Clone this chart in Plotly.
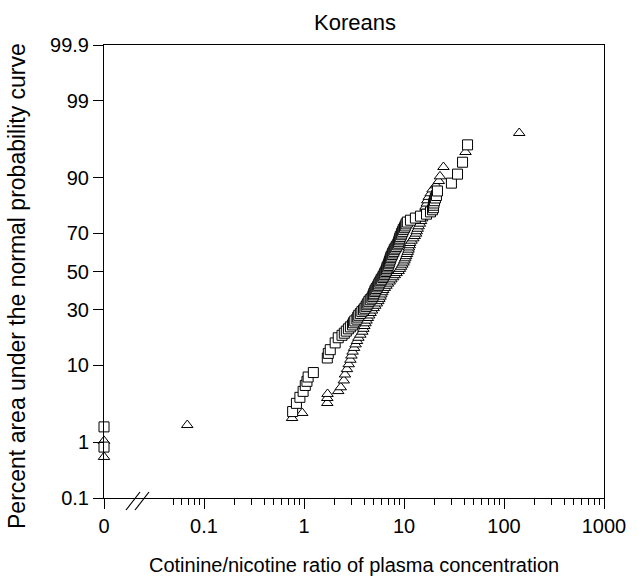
import plotly.graph_objects as go
from statistics import NormalDist

# ---------------- data ----------------
SQ_X = [0, 0, 0.77, 0.84, 0.91, 0.98, 1.03, 1.07, 1.10, 1.24, 1.71, 1.75, 1.83, 2.05,
        2.2, 2.4, 2.53, 2.65, 2.78, 2.91, 3.05, 3.12, 3.22, 3.38, 3.45, 3.53, 3.66, 3.79,
        3.94, 4.06, 4.18, 4.27, 4.36, 4.46, 4.6, 4.77, 4.88, 4.94, 5.0, 5.11, 5.16, 5.28,
        5.41, 5.53, 5.6, 5.73, 5.86, 5.93, 6.13, 6.2, 6.35, 6.43, 6.58, 6.66, 6.74, 6.8,
        6.96, 7.04, 7.12, 7.2, 7.29, 7.37, 7.46, 7.63, 7.72, 7.9, 8.0, 8.18, 8.37, 8.57,
        8.77, 8.87, 8.97, 9.07, 9.18, 9.4, 9.5, 9.7, 9.84, 10.1, 10.3, 10.5, 10.8,
        11.6, 13.0, 14.6, 16.8, 18.4, 19.3, 19.7, 19.7, 19.9, 20.2, 20.6, 21.1, 21.6,
        29.8, 34.3, 38.5, 43.2]
SQ_P = [0.83, 1.70, 2.8, 3.6, 4.3, 5.1, 6.0, 6.7, 7.5, 8.4, 11.9, 13.2, 14.3, 16.5,
        18.3, 19.2, 20.0, 20.8, 21.7, 22.5, 23.3, 24.2, 25.0, 25.8, 26.7, 27.5, 28.3, 29.2,
        30.0, 30.8, 31.7, 32.5, 33.3, 34.2, 35.0, 35.8, 36.7, 37.5, 38.3, 39.2, 40.0, 40.8,
        41.7, 42.5, 43.3, 44.2, 45.0, 45.8, 46.7, 47.5, 48.3, 49.2, 50.0, 50.8, 51.7, 52.5,
        53.3, 54.2, 55.0, 55.8, 56.7, 57.5, 58.3, 59.2, 60.0, 60.8, 61.7, 62.5, 63.3, 64.2,
        65.0, 65.8, 66.7, 67.5, 68.3, 69.2, 70.0, 70.8, 71.7, 72.5, 73.3, 74.2, 75.0,
        75.8, 76.7, 77.5, 78.3, 79.2, 80.0, 80.8, 81.7, 82.5, 83.3, 84.2, 85.0, 86.4,
        88.6, 90.8, 93.2, 95.8]

TR_X = [0, 0, 0.068, 0.76, 0.96, 1.71, 1.71, 1.72, 2.2,
        2.33, 2.50, 2.57, 2.69, 2.80, 2.91, 2.98, 3.06, 3.17, 3.28,
        3.39, 3.50, 3.66, 3.83, 3.92, 4.01, 4.12, 4.22, 4.35, 4.49,
        4.63, 4.79, 4.97, 5.16, 5.35, 5.53, 5.67, 5.82, 5.93, 6.07,
        6.20, 6.43, 6.67, 6.92, 7.19, 7.47, 7.79, 8.09, 8.43, 8.83,
        9.10, 9.35, 9.62, 9.89, 10.1, 10.3, 10.5, 10.7, 10.9, 11.1,
        11.2, 11.4, 11.5, 11.9, 12.4, 12.8, 13.2, 13.4, 13.7, 14.0,
        14.4, 14.8, 15.2, 15.5, 15.8, 16.1, 16.4, 16.9, 17.1, 17.7,
        18.5, 19.3, 20.9, 22.3, 22.9,
        24.8, 41.2, 142]
TR_P = [0.57, 1.04, 1.81, 2.28, 2.68, 3.64, 4.22, 4.74, 5.14,
        5.71, 6.86, 8.0, 9.14, 10.29, 11.43, 12.57, 13.71, 14.86, 16.0,
        17.14, 18.29, 19.43, 20.57, 21.71, 22.86, 24.0, 25.14, 26.29, 27.43,
        28.57, 29.71, 30.86, 32.0, 33.14, 34.29, 35.43, 36.57, 37.71, 38.86,
        40.0, 41.14, 42.29, 43.43, 44.57, 45.71, 46.86, 48.0, 49.14, 50.29,
        51.43, 52.57, 53.71, 54.86, 56.0, 57.14, 58.29, 59.43, 60.57, 61.71,
        62.86, 64.0, 65.14, 66.29, 67.43, 68.57, 69.71, 70.86, 72.0, 73.14,
        74.29, 75.43, 76.57, 77.71, 78.86, 80.0, 81.14, 82.29, 83.43, 84.57,
        85.71, 86.86, 88.0, 89.14, 90.29,
        92.3, 94.85, 97.06]

X_TICK_VALUES = [0, 0.1, 1, 10, 100, 1000]
X_TICK_LABELS = ["0", "0.1", "1", "10", "100", "1000"]
X_MINOR = [0.05, 0.06, 0.07, 0.08, 0.09] + [m * d for d in (0.1, 1, 10, 100) for m in range(2, 10)]
Y_TICK_PCT = [0.1, 1, 10, 30, 50, 70, 90, 99, 99.9]
Y_TICK_LABELS = ["0.1", "1", "10", "30", "50", "70", "90", "99", "99.9"]

# ---------------- scales ----------------
ZERO_AT = 0.01          # position of the "0" on the broken log axis
nd = NormalDist()


def xpos(v):
    return ZERO_AT if v == 0 else v


def probit(p):
    return nd.inv_cdf(p / 100.0)


FONT = "Liberation Sans, Arial, sans-serif"
W, H = 639, 585
L, R, T, B = 104, 35, 45, 87
PW, PH = W - L - R, H - T - B

fig = go.Figure()
fig.add_trace(go.Scatter(
    x=[xpos(v) for v in TR_X], y=[probit(p) for p in TR_P],
    mode="markers", cliponaxis=False, showlegend=False,
    marker=dict(symbol="triangle-up", size=10, color="white",
                line=dict(color="black", width=1))))
fig.add_trace(go.Scatter(
    x=[xpos(v) for v in SQ_X], y=[probit(p) for p in SQ_P],
    mode="markers", cliponaxis=False, showlegend=False,
    marker=dict(symbol="square", size=10, color="white",
                line=dict(color="black", width=1))))


def px2paper_x(px):
    return (px - L) / PW


def px2paper_y(py):
    return (H - B - py) / PH


shapes = []
for x0 in (126, 135):
    shapes.append(dict(type="line", xref="paper", yref="paper",
                       x0=px2paper_x(x0), y0=px2paper_y(510),
                       x1=px2paper_x(x0 + 14), y1=px2paper_y(492),
                       line=dict(color="black", width=1.2)))

fig.update_layout(
    width=W, height=H,
    margin=dict(l=L, r=R, t=T, b=B),
    paper_bgcolor="white", plot_bgcolor="white",
    font=dict(family=FONT, color="black", size=20),
    title=dict(text="Koreans", x=355 / W, xanchor="center",
               y=1 - 22 / H, yanchor="middle", font=dict(size=22)),
    shapes=shapes,
    annotations=[
        dict(text="Cotinine/nicotine ratio of plasma concentration", xref="paper", yref="paper",
             x=0.5, y=0, xanchor="center", yanchor="middle", yshift=-(565 - (H - B)),
             showarrow=False, font=dict(size=20)),
        dict(text="Percent area under the normal probability curve", xref="paper", yref="paper",
             x=0, y=px2paper_y(286), xanchor="center", yanchor="middle", xshift=-(L - 17),
             textangle=-90, showarrow=False, font=dict(size=23)),
    ],
)

fig.update_xaxes(
    type="log", range=[-2, 3],
    tickmode="array", tickvals=[xpos(v) for v in X_TICK_VALUES], ticktext=X_TICK_LABELS,
    ticks="outside", ticklen=10, tickwidth=1, tickcolor="black",
    minor=dict(tickmode="array", tickvals=X_MINOR, ticks="outside", ticklen=6,
               tickwidth=1, tickcolor="black", showgrid=False),
    showline=True, linecolor="black", linewidth=1, mirror=True,
    showgrid=False, zeroline=False, tickfont=dict(size=20),
)
fig.update_yaxes(
    range=[probit(0.1), probit(99.9)],
    tickmode="array", tickvals=[probit(p) for p in Y_TICK_PCT], ticktext=Y_TICK_LABELS,
    ticks="outside", ticklen=10, tickwidth=1, tickcolor="black",
    showline=True, linecolor="black", linewidth=1, mirror=True,
    showgrid=False, zeroline=False, tickfont=dict(size=20),
)

fig.write_html("out.html")
